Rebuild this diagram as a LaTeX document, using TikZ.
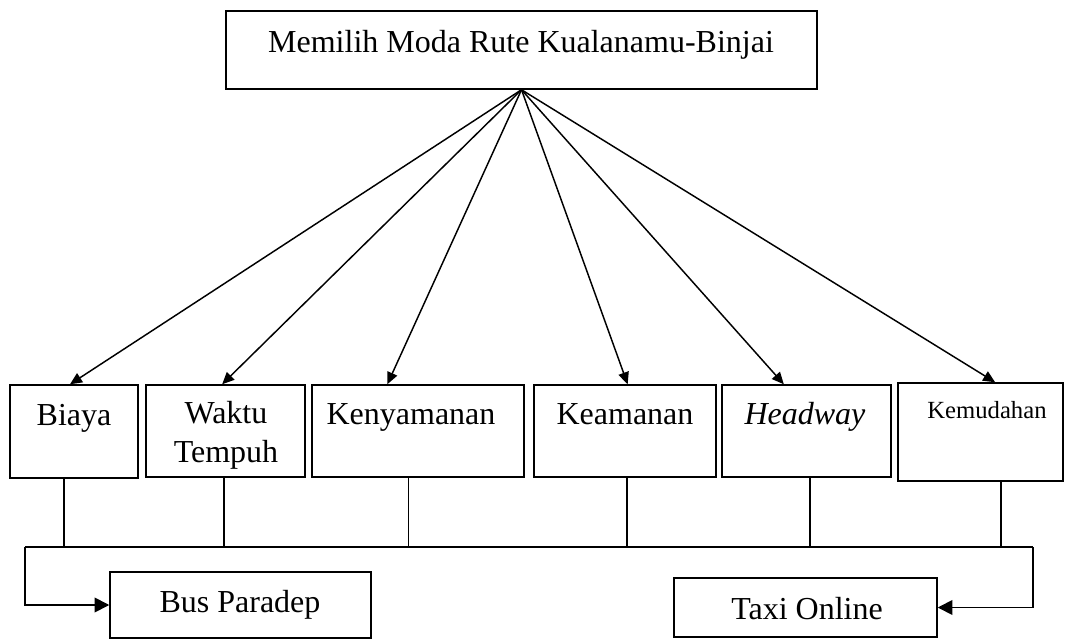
\documentclass[tikz,border=0pt]{standalone}
\usepackage{fontspec}
\setmainfont{Liberation Serif}
\usetikzlibrary{arrows.meta}
\tikzset{
  kotak/.style={draw,rectangle,inner sep=0pt,line width=1.1pt},
  teks/.style={anchor=base,inner sep=0pt,font=\fontsize{24}{29}\selectfont},
  garis/.style={line width=1.1pt},
  panah/.style={line width=1.1pt,-{Triangle[length=9pt,width=8pt]}},
  panahbawah/.style={line width=1.3pt,-{Triangle[length=11pt,width=11pt]}}
}
\begin{document}
\begin{tikzpicture}[x=0.75pt,y=-0.75pt]
\useasboundingbox (0,0) rectangle (1068,639);
% kotak-kotak
\node[kotak,minimum width=443.25pt,minimum height=58.5pt] (atas) at (521.5,50) {};
\node[kotak,minimum width=96pt,minimum height=69.75pt] (biaya) at (74,431.5) {};
\node[kotak,minimum width=119.25pt,minimum height=69pt] (waktu) at (225.5,431) {};
\node[kotak,minimum width=159pt,minimum height=69pt] (nyaman) at (418,431) {};
\node[kotak,minimum width=136.5pt,minimum height=69pt] (aman) at (625,431) {};
\node[kotak,minimum width=126.75pt,minimum height=69pt] (headway) at (806.5,431) {};
\node[kotak,minimum width=123.75pt,minimum height=73.5pt] (mudah) at (980.5,432) {};
\node[kotak,minimum width=195.75pt,minimum height=49.5pt] (bus) at (240.5,605) {};
\node[kotak,minimum width=197.25pt,minimum height=44.25pt] (taxi) at (805.5,607.5) {};
% tulisan
\node[teks] (tatas) at (521,52) {Memilih Moda Rute Kualanamu-Binjai};
\node[teks] (tbiaya) at (74,425) {Biaya};
\node[teks,align=center] (twaktu) at (226,462) {Waktu\\Tempuh};
\node[teks] (tnyaman) at (411,424) {Kenyamanan};
\node[teks] (taman) at (625,424) {Keamanan};
\node[teks] (theadway) at (805,424) {\itshape Headway};
\node[teks,font=\fontsize{18.5}{22}\selectfont] (tmudah) at (987,418) {Kemudahan};
\node[teks] (tbus) at (240,612) {Bus Paradep};
\node[teks] (ttaxi) at (807,619) {Taxi Online};
% panah dari atas
\draw[panah] (atas.south) -- ([xshift=-3pt]biaya.north);
\draw[panah] (atas.south) -- ([xshift=-2.5pt]waktu.north);
\draw[panah] (atas.south) -- ([xshift=-23pt]nyaman.north);
\draw[panah] (atas.south) -- ([xshift=2pt]aman.north);
\draw[panah] (atas.south) -- ([xshift=-17pt]headway.north);
\draw[panah] (atas.south) -- ([xshift=11pt]mudah.north);
% garis bawah
\coordinate (kiri) at (25,547);
\coordinate (kanan) at (1033,547);
\draw[garis] (kiri) -- (kanan);
\draw[garis] ([xshift=-7.5pt]biaya.south) -- ([xshift=-7.5pt]biaya.south |- kiri);
\draw[garis] ([xshift=-1pt]waktu.south) -- ([xshift=-1pt]waktu.south |- kiri);
\draw[garis] ([xshift=-7pt]nyaman.south) -- ([xshift=-7pt]nyaman.south |- kiri);
\draw[garis] ([xshift=1.5pt]aman.south) -- ([xshift=1.5pt]aman.south |- kiri);
\draw[garis] ([xshift=2.5pt]headway.south) -- ([xshift=2.5pt]headway.south |- kiri);
\draw[garis] ([xshift=15.5pt]mudah.south) -- ([xshift=15.5pt]mudah.south |- kiri);
\draw[panahbawah] (kiri) |- (bus.west);
\draw[panahbawah] (kanan) |- (taxi.east);
\end{tikzpicture}
\end{document}
